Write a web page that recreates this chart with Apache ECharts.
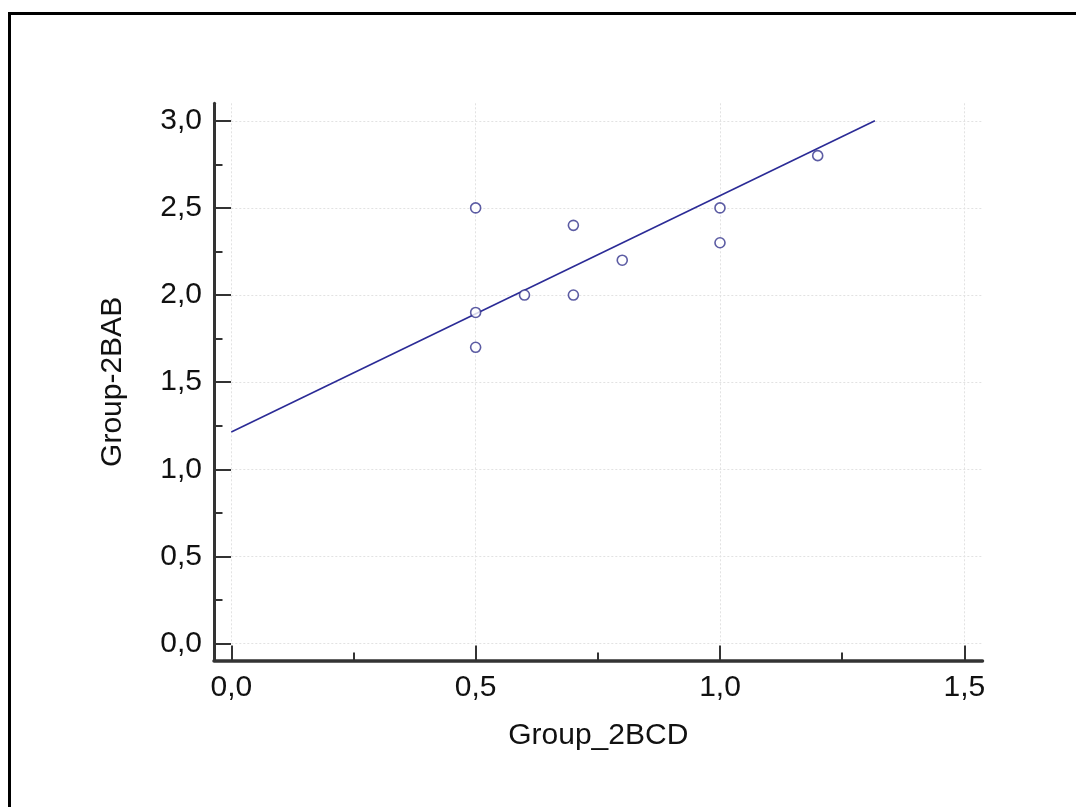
<!DOCTYPE html>
<html>
<head>
<meta charset="utf-8">
<script src="https://cdn.jsdelivr.net/npm/echarts@6/dist/echarts.min.js"></script>
<style>
  html, body { margin: 0; padding: 0; background: #fff; overflow: hidden; }
  #frame { position: absolute; left: 8px; top: 12px; width: 2000px; height: 2000px; border: 3px solid #000; }
  #chart { position: absolute; left: 0; top: 0; width: 1076px; height: 807px; }
</style>
</head>
<body>
<div id="frame"></div>
<div id="chart"></div>
<script>
// ---- data ----
const groupBCD = [0.5, 0.5, 0.5, 0.6, 0.7, 0.7, 0.8, 1.0, 1.0, 1.2];
const groupBAB = [2.5, 1.9, 1.7, 2.0, 2.4, 2.0, 2.2, 2.5, 2.3, 2.8];
const fitX = [0, 1.317];
const fitY = [1.214, 3.0];
const xMajorTicks = [0, 0.5, 1.0, 1.5];
const xMinorTicks = [0.25, 0.75, 1.25];
const yMajorTicks = [0, 0.5, 1.0, 1.5, 2.0, 2.5, 3.0];
const yMinorTicks = [0.25, 0.75, 1.25, 1.75, 2.25, 2.75];
const xName = 'Group_2BCD';
const yName = 'Group-2BAB';
const X_MIN = -0.0354, X_MAX = 1.5372;
const Y_MIN = -0.0976, Y_MAX = 3.1004;

const fmt = v => v.toFixed(1).replace('.', ',');
const axisColor = '#333';
const textColor = '#111';
const font = "'Liberation Sans', Arial, sans-serif";
const gridStyle = { color: '#e2e2e2', width: 1, type: [2, 2] };

const chart = echarts.init(document.getElementById('chart'), null, { renderer: 'canvas' });
chart.setOption({
  animation: false,
  backgroundColor: 'transparent',
  grid: [
    { left: 214, right: 93.5, top: 103.3, bottom: 146.5, containLabel: false },
    { left: 231.3, right: 93.5, top: 103.3, bottom: 163.5, containLabel: false }
  ],
  xAxis: [
    {
      gridIndex: 0, type: 'value', min: X_MIN, max: X_MAX, position: 'bottom',
      axisLine: { show: true, onZero: false, lineStyle: { color: axisColor, width: 3.5 } },
      axisTick: { show: true, inside: true, length: 15, customValues: xMajorTicks, lineStyle: { color: axisColor, width: 2 } },
      axisLabel: { show: true, customValues: xMajorTicks, formatter: fmt, fontSize: 30, fontFamily: font, color: textColor, margin: 12 },
      splitLine: { show: false },
      name: xName, nameLocation: 'middle', nameGap: 60,
      nameTextStyle: { fontSize: 30, fontFamily: font, color: textColor }
    },
    {
      gridIndex: 0, type: 'value', min: X_MIN, max: X_MAX, position: 'bottom',
      axisLine: { show: false, onZero: false },
      axisTick: { show: true, inside: true, length: 8, customValues: xMinorTicks, lineStyle: { color: axisColor, width: 2 } },
      axisLabel: { show: false, customValues: xMinorTicks },
      splitLine: { show: false }
    },
    {
      gridIndex: 1, type: 'value', min: 0, max: X_MAX, position: 'bottom',
      axisLine: { show: false, onZero: false },
      axisTick: { show: false, customValues: xMajorTicks },
      axisLabel: { show: false, customValues: xMajorTicks },
      splitLine: { show: true, lineStyle: gridStyle }
    }
  ],
  yAxis: [
    {
      gridIndex: 0, type: 'value', min: Y_MIN, max: Y_MAX, position: 'left',
      axisLine: { show: true, onZero: false, lineStyle: { color: axisColor, width: 3 } },
      axisTick: { show: true, inside: true, length: 17, customValues: yMajorTicks, lineStyle: { color: axisColor, width: 2 } },
      axisLabel: { show: true, customValues: yMajorTicks, formatter: fmt, fontSize: 30, fontFamily: font, color: textColor, margin: 12 },
      splitLine: { show: false },
      name: yName, nameLocation: 'middle', nameGap: 86, nameRotate: 90,
      nameTextStyle: { fontSize: 30, fontFamily: font, color: textColor }
    },
    {
      gridIndex: 0, type: 'value', min: Y_MIN, max: Y_MAX, position: 'left',
      axisLine: { show: false, onZero: false },
      axisTick: { show: true, inside: true, length: 8.5, customValues: yMinorTicks, lineStyle: { color: axisColor, width: 2 } },
      axisLabel: { show: false, customValues: yMinorTicks },
      splitLine: { show: false }
    },
    {
      gridIndex: 1, type: 'value', min: 0, max: Y_MAX, position: 'left',
      axisLine: { show: false, onZero: false },
      axisTick: { show: false, customValues: yMajorTicks },
      axisLabel: { show: false, customValues: yMajorTicks },
      splitLine: { show: true, lineStyle: gridStyle }
    }
  ],
  series: [
    {
      type: 'line', xAxisIndex: 0, yAxisIndex: 0,
      data: fitX.map((x, i) => [x, fitY[i]]),
      symbol: 'none', silent: true,
      lineStyle: { color: '#2b2b96', width: 1.6 },
      z: 3
    },
    {
      type: 'scatter', xAxisIndex: 0, yAxisIndex: 0,
      data: groupBCD.map((x, i) => [x, groupBAB[i]]),
      symbol: 'circle', symbolSize: 10,
      itemStyle: { color: '#fff', borderColor: '#33338c', borderWidth: 1.6 },
      z: 4
    }
  ]
});
</script>
</body>
</html>
